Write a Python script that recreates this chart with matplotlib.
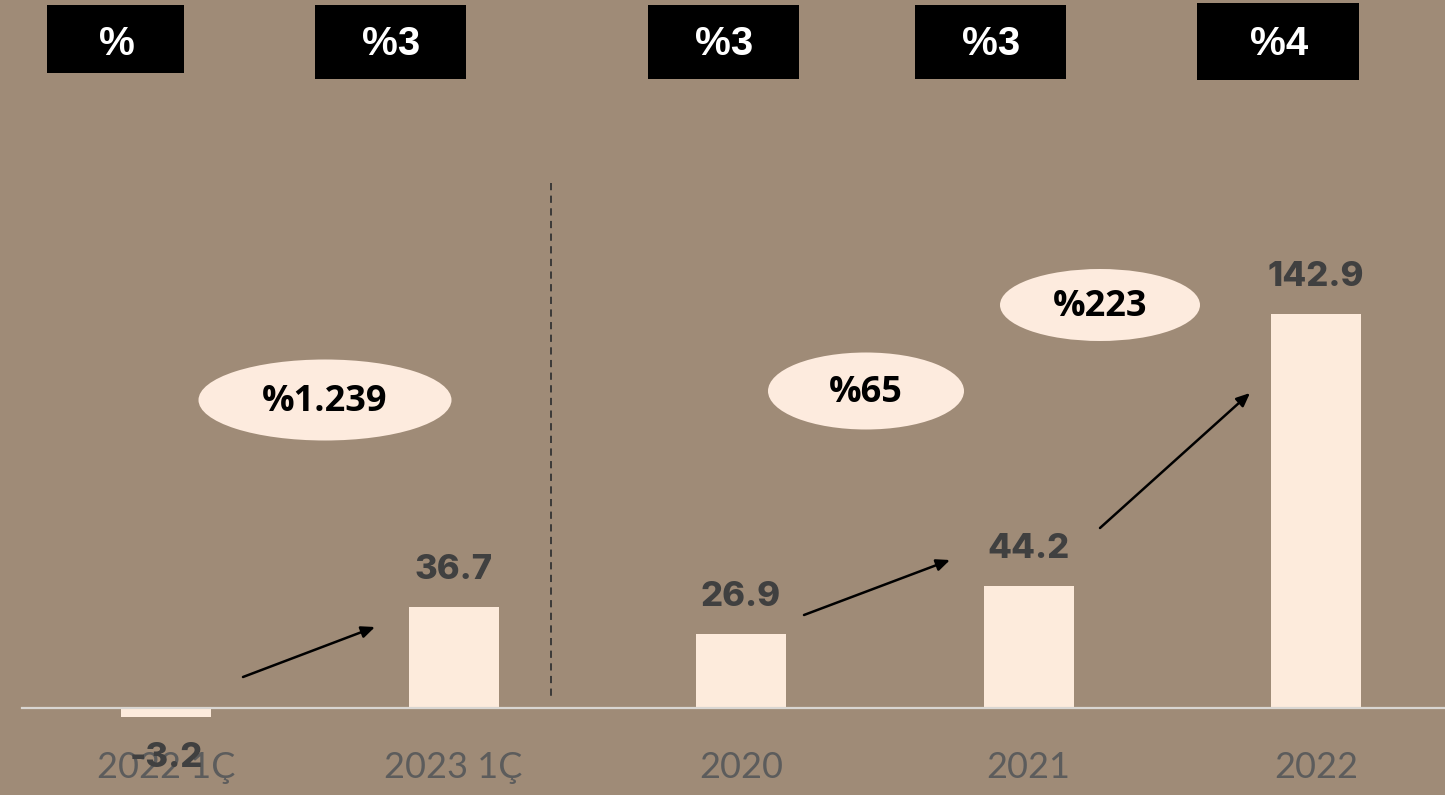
import matplotlib
matplotlib.use("Agg")
import matplotlib.pyplot as plt
from matplotlib.patches import Ellipse, Rectangle

categories = ["2022 1Ç", "2023 1Ç", "2020", "2021", "2022"]
values = [-3.2, 36.7, 26.9, 44.2, 142.9]
value_labels = ["-3.2", "36.7", "26.9", "44.2", "142.9"]
top_box_labels = ["%", "%3", "%3", "%3", "%4"]
growth_labels = ["%1.239", "%65", "%223"]

BG = "#9F8B77"
BAR = "#FDEBDC"

W, H = 1445, 795
fig = plt.figure(figsize=(W / 100, H / 100), dpi=100, facecolor=BG)

# data axes covering the full figure
ax = fig.add_axes([0, 0, 1, 1])
ax.set_facecolor(BG)
px_per_x = 287.5
x0_px = 166
base_px = 708
px_per_y = 2.757
ax.set_xlim(-x0_px / px_per_x, (W - x0_px) / px_per_x)
ax.set_ylim(-(H - base_px) / px_per_y, base_px / px_per_y)
ax.axis("off")

xs = list(range(len(categories)))
ax.bar(xs, values, width=90 / px_per_x, color=BAR, zorder=2)
ax.axhline(0, xmin=22 / W, xmax=1, color="#D9D6D2", lw=1.6, zorder=3)

for x, v, lab in zip(xs, values, value_labels):
    if v >= 0:
        y = v + 37 / px_per_y
    else:
        y = v - 41 / px_per_y
    ax.text(x, y, lab, ha="center", va="center", fontsize=25, fontweight="heavy",
            color="#404040", family=["Inter", "DejaVu Sans"], zorder=5)

for x, c in zip(xs, categories):
    ax.text(x, -(767 - base_px) / px_per_y, c, ha="center", va="center", fontsize=26,
            color="#5C5C5C", family=["Lato", "DejaVu Sans"], zorder=4)

# overlay axes in pixel coordinates for decorations
ov = fig.add_axes([0, 0, 1, 1], facecolor="none")
ov.set_xlim(0, W)
ov.set_ylim(H, 0)
ov.axis("off")

# top black boxes
boxes = [(47, 5, 137, 68), (315, 5, 151, 74), (648, 5, 151, 74), (915, 5, 151, 74), (1197, 3, 162, 77)]
for (bx, by, bw, bh), lab in zip(boxes, top_box_labels):
    ov.add_patch(Rectangle((bx, by), bw, bh, facecolor="black", edgecolor="none"))
    ov.text(bx + bw / 2 + 1, 44, lab, ha="center", va="center", color="white",
            fontsize=29, fontweight="bold", family=["Liberation Sans", "DejaVu Sans"])

# dashed separator
ov.plot([551, 551], [183, 697], color="#333333", lw=1.3, ls=(0, (4, 3)))

# ellipses
ells = [(325, 400, 253, 81), (866, 391, 196, 77), (1100, 305, 200, 72)]
for (cx, cy, ew, eh), lab in zip(ells, growth_labels):
    ov.add_patch(Ellipse((cx, cy), ew, eh, facecolor="#FDEBDE", edgecolor="none"))
    ov.text(cx, cy + 2, lab, ha="center", va="center", fontsize=26, fontweight="bold",
            color="black", family=["Open Sans", "DejaVu Sans"])

# arrows
arrows = [((243, 677), (375, 627)), ((804, 615), (950, 560)), ((1100, 528), (1250, 393))]
for (sx, sy), (ex, ey) in arrows:
    ov.annotate("", xy=(ex, ey), xytext=(sx, sy),
                arrowprops=dict(arrowstyle="-|>,head_length=0.8,head_width=0.35",
                                color="black", lw=1.8, shrinkA=0, shrinkB=0))

fig.savefig("out.png", dpi=100, facecolor=BG)
